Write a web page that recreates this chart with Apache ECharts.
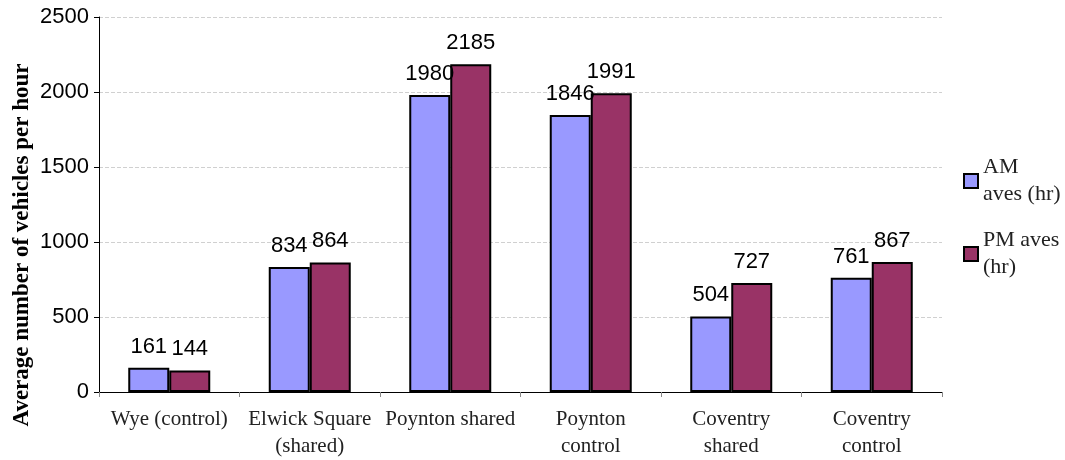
<!DOCTYPE html>
<html>
<head>
<meta charset="utf-8">
<script src="https://cdn.jsdelivr.net/npm/echarts@6/dist/echarts.min.js"></script>
<style>
  html, body { margin: 0; padding: 0; background: #fff; }
  #main { width: 1065px; height: 460px; }
</style>
</head>
<body>
<div id="main"></div>
<script>
  // data
  var categories = ['Wye (control)', 'Elwick Square\n(shared)', 'Poynton shared', 'Poynton\ncontrol', 'Coventry\nshared', 'Coventry\ncontrol']
  var amValues = [161, 834, 1980, 1846, 504, 761]
  var pmValues = [144, 864, 2185, 1991, 727, 867]
  var yTicks = [0, 500, 1000, 1500, 2000, 2500]

  var myChart = echarts.init(document.getElementById('main'))

  var labelStyle = {
      show: true,
      position: 'top',
      distance: 10,
      fontFamily: 'Liberation Sans',
      fontSize: 22,
      color: '#000'
  }

  var option = {
      animation: false,
      grid: { left: 99, right: 123, top: 17, bottom: 67 },
      // y axis title, placed like the original (slightly below centre)
      graphic: [{
          type: 'text',
          x: 22,
          y: 245,
          rotation: Math.PI / 2,
          style: {
              text: 'Average number of vehicles per hour',
              fontFamily: 'Liberation Serif',
              fontSize: 23,
              fontWeight: 'bold',
              fill: '#000',
              align: 'center',
              verticalAlign: 'middle'
          }
      }],
      legend: {
          orient: 'vertical',
          left: 958,
          top: 149,
          icon: 'rect',
          itemWidth: 14,
          itemHeight: 14,
          itemGap: 19,
          textStyle: { fontFamily: 'Liberation Serif', fontSize: 22, color: '#222', lineHeight: 27 },
          formatter: function (name) {
              return name === 'AM aves (hr)' ? 'AM\naves (hr)' : 'PM aves\n(hr)'
          },
          data: [
              { name: 'AM aves (hr)', itemStyle: { borderColor: '#000', borderWidth: 2 } },
              { name: 'PM aves (hr)', itemStyle: { borderColor: '#000', borderWidth: 2 } }
          ]
      },
      xAxis: {
          type: 'category',
          data: categories,
          axisLine: { lineStyle: { color: '#000', width: 1 } },
          axisTick: { show: true, length: 5, lineStyle: { color: '#888' } },
          axisLabel: {
              interval: 0,
              margin: 14,
              fontFamily: 'Liberation Serif',
              fontSize: 21,
              color: '#222',
              lineHeight: 27
          }
      },
      yAxis: {
          type: 'value',
          min: yTicks[0],
          max: yTicks[yTicks.length - 1],
          interval: 500,
          axisLine: { show: true, lineStyle: { color: '#000', width: 1 } },
          axisTick: { show: true, length: 5, lineStyle: { color: '#000' } },
          axisLabel: {
              fontFamily: 'Liberation Sans', fontSize: 22, color: '#000', margin: 10,
              formatter: function (v) { return String(v) }
          },
          splitLine: { lineStyle: { color: '#d0d0d0', type: 'dashed' } }
      },
      series: [
          {
              name: 'AM aves (hr)',
              type: 'bar',
              data: amValues,
              barWidth: 41,
              barGap: '0%',
              itemStyle: { color: '#9999FF', borderColor: '#000', borderWidth: 2 },
              label: labelStyle
          },
          {
              name: 'PM aves (hr)',
              type: 'bar',
              data: pmValues,
              barWidth: 41,
              itemStyle: { color: '#993366', borderColor: '#000', borderWidth: 2 },
              label: labelStyle
          }
      ]
  }

  myChart.setOption(option)
</script>
</body>
</html>
